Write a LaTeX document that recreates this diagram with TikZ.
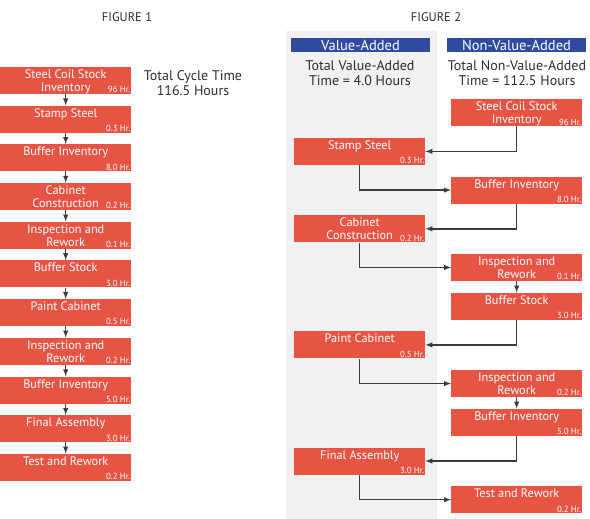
\documentclass[tikz,border=0pt]{standalone}
\usepackage{fontspec}
\setmainfont{PT Sans}
\definecolor{boxred}{RGB}{232,84,68}
\definecolor{headblue}{RGB}{47,75,160}
\definecolor{panelgray}{RGB}{241,241,243}
\definecolor{linegray}{RGB}{60,60,60}
\definecolor{textgray}{RGB}{45,45,45}
\begin{document}
\begin{tikzpicture}[x=1pt, y=-1pt,
  stepbox/.style={fill=boxred, minimum width=131pt, minimum height=27pt, anchor=north west, inner sep=0pt},
  ttl/.style={anchor=north, inner sep=0pt, yshift=-2.8pt, align=center, text=white, font=\fontsize{12.3}{13}\selectfont},
  hrs/.style={anchor=south east, inner sep=1pt, text=white, font=\fontsize{8.8}{9}\selectfont},
  link/.style={draw=linegray, line width=1.4pt, -latex},
  head/.style={fill=headblue, text=white, minimum width=139pt, minimum height=14pt, inner sep=0pt, font=\fontsize{14.5}{14.5}\selectfont},
  note/.style={align=center, text=textgray, font=\fontsize{14}{14.5}\selectfont}]
  \useasboundingbox (0,0) rectangle (590,519);

  % Figure 1: one column
  \node[text=textgray, font=\fontsize{12.5}{12.5}\selectfont] (fig1) at (127,17) {FIGURE 1};
  \node[note] (cycle) at (193,83) {Total Cycle Time\\116.5 Hours};
  \foreach \txt/\hr [count=\i from 0] in {{Steel Coil Stock\\Inventory}/96, {Stamp Steel}/0.3,
      {Buffer Inventory}/8.0, {Cabinet\\Construction}/0.2, {Inspection and\\Rework}/0.1,
      {Buffer Stock}/3.0, {Paint Cabinet}/0.5, {Inspection and\\Rework}/0.2,
      {Buffer Inventory}/5.0, {Final Assembly}/3.0, {Test and Rework}/0.2} {
    \node[stepbox, label={[ttl]north:\txt}, label={[hrs]south east:\hr~Hr.}]
      (a\i) at (0,66.7+38.7*\i) {};
  }
  \foreach \i [count=\j] in {0,...,9} {
    \draw[link] (a\i) -- (a\j);
  }

  % Figure 2: value-added vs non-value-added
  \fill[panelgray] (286,31) rectangle (437,519); % Value-added panel
  \node[text=textgray, font=\fontsize{12.5}{12.5}\selectfont] (fig2) at (436,17) {FIGURE 2};
  \node[head] (vahead) at (360.5,45) {Value-Added};
  \node[head] (nvahead) at (516.5,45) {Non-Value-Added};
  \node[note] (vatot) at (360,73) {Total Value-Added\\Time = 4.0 Hours};
  \node[note] (nvatot) at (517,73) {Total Non-Value-Added\\Time = 112.5 Hours};
  \foreach \nm/\col/\row/\txt/\hr in {b0/451/0/{Steel Coil Stock\\Inventory}/96,
      b1/294/1/{Stamp Steel}/0.3, b2/451/2/{Buffer Inventory}/8.0,
      b3/294/3/{Cabinet\\Construction}/0.2, b4/451/4/{Inspection and\\Rework}/0.1,
      b5/451/5/{Buffer Stock}/3.0, b6/294/6/{Paint Cabinet}/0.5,
      b7/451/7/{Inspection and\\Rework}/0.2, b8/451/8/{Buffer Inventory}/5.0,
      b9/294/9/{Final Assembly}/3.0, b10/451/10/{Test and Rework}/0.2} {
    \node[stepbox, label={[ttl]north:\txt}, label={[hrs]south east:\hr~Hr.}]
      (\nm) at (\col,99+38.7*\row) {};
  }
  \draw[link] (b0.south) |- (b1.east);
  \draw[link] (b1.south) |- (b2.west);
  \draw[link] (b2.south) |- (b3.east);
  \draw[link] (b3.south) |- (b4.west);
  \draw[link] (b4) -- (b5);
  \draw[link] (b5.south) |- (b6.east);
  \draw[link] (b6.south) |- (b7.west);
  \draw[link] (b7) -- (b8);
  \draw[link] (b8.south) |- (b9.east);
  \draw[link] (b9.south) |- (b10.west);
\end{tikzpicture}
\end{document}
